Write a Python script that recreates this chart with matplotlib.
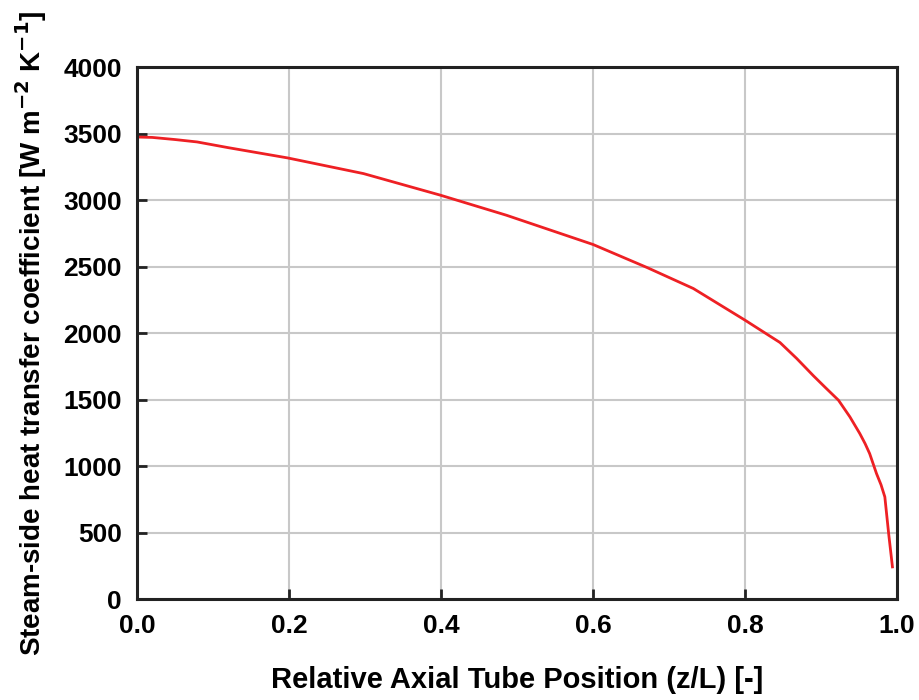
import matplotlib.pyplot as plt

# Coeficiente de transferencia de calor del lado del vapor vs posición axial
z = [0.0, 0.02, 0.05, 0.079, 0.12, 0.198, 0.298, 0.399, 0.486, 0.600, 0.671,
     0.732, 0.800, 0.846, 0.868, 0.890, 0.906, 0.923, 0.938, 0.951, 0.958,
     0.964, 0.973, 0.979, 0.984, 0.989, 0.994]
h = [3475, 3472, 3456, 3438, 3395, 3318, 3200, 3038, 2887, 2667, 2494,
     2336, 2098, 1930, 1810, 1680, 1590, 1496, 1371, 1246, 1170,
     1095, 945, 860, 769, 494, 243]

xticks = [0.0, 0.2, 0.4, 0.6, 0.8, 1.0]
yticks = [0, 500, 1000, 1500, 2000, 2500, 3000, 3500, 4000]

plt.rcParams['font.family'] = ['Liberation Sans', 'DejaVu Sans']
plt.rcParams['font.weight'] = 'bold'
plt.rcParams['mathtext.default'] = 'bf'

fig = plt.figure(figsize=(9.2, 7.0), dpi=100)
ax = fig.add_axes([0.149, 0.144, 0.826, 0.760])

ax.plot(z, h, color='#ee2024', lw=2.0)

ax.set_xlim(0, 1.0)
ax.set_ylim(0, 4000)
ax.set_xticks(xticks)
ax.set_yticks(yticks)
ax.set_xticklabels([f'{t:.1f}' for t in xticks])
ax.grid(color='#c8c8c8', lw=1.5)
ax.set_axisbelow(True)
ax.tick_params(direction='in', length=7, width=2, labelsize=19, color='#222222')
ax.tick_params(axis='x', pad=11)
ax.tick_params(axis='y', pad=11)
for s in ax.spines.values():
    s.set_linewidth(2.2)
    s.set_color('#222222')

ax.set_xlabel('Relative Axial Tube Position (z/L) [-]', fontsize=21, fontweight='bold', labelpad=20)
ax.set_ylabel('Steam-side heat transfer coefficient [W m$^{-2}$ K$^{-1}$]',
              fontsize=20, fontweight='bold', labelpad=10)

fig.savefig('out.png', dpi=100)
